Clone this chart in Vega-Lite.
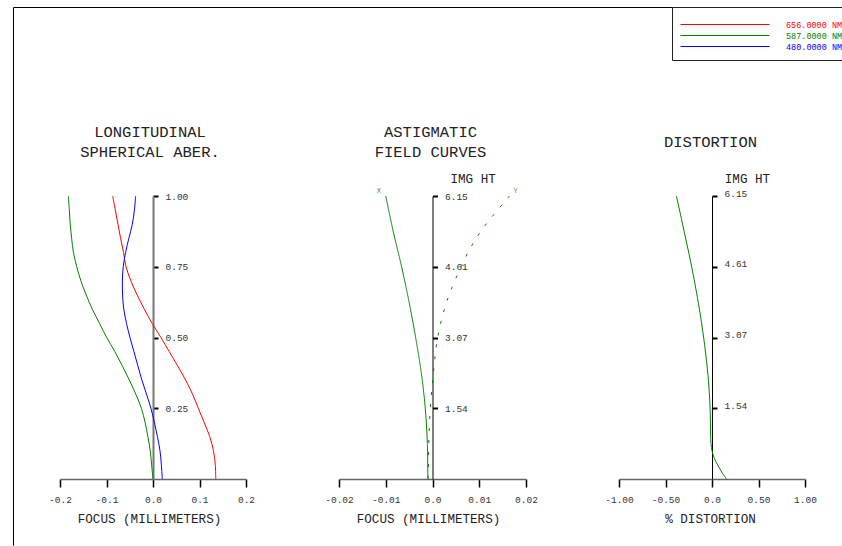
{
  "$schema": "https://vega.github.io/schema/vega-lite/v6.json",
  "width": 842,
  "height": 546,
  "autosize": "none",
  "padding": 0,
  "background": "white",
  "config": {
    "view": {"stroke": null},
    "axis": {
      "grid": false,
      "labelFont": "Liberation Mono",
      "titleFont": "Liberation Mono",
      "labelFontSize": 9.5,
      "labelColor": "#333333",
      "titleColor": "#222222",
      "titleFontWeight": "normal",
      "labelFlush": false,
      "labelOverlap": false,
      "tickColor": "black",
      "domainColor": "black"
    }
  },
  "datasets": {
    "lsa": [
      {"wl": "656.0000 NM", "pupil": 0, "focus": 0.135},
      {"wl": "656.0000 NM", "pupil": 0.05, "focus": 0.134},
      {"wl": "656.0000 NM", "pupil": 0.1, "focus": 0.13},
      {"wl": "656.0000 NM", "pupil": 0.15, "focus": 0.122},
      {"wl": "656.0000 NM", "pupil": 0.2, "focus": 0.11},
      {"wl": "656.0000 NM", "pupil": 0.25, "focus": 0.0975},
      {"wl": "656.0000 NM", "pupil": 0.3, "focus": 0.085},
      {"wl": "656.0000 NM", "pupil": 0.35, "focus": 0.07},
      {"wl": "656.0000 NM", "pupil": 0.4, "focus": 0.053},
      {"wl": "656.0000 NM", "pupil": 0.45, "focus": 0.035},
      {"wl": "656.0000 NM", "pupil": 0.5, "focus": 0.017},
      {"wl": "656.0000 NM", "pupil": 0.55, "focus": -0.002},
      {"wl": "656.0000 NM", "pupil": 0.6, "focus": -0.0186},
      {"wl": "656.0000 NM", "pupil": 0.65, "focus": -0.034},
      {"wl": "656.0000 NM", "pupil": 0.7, "focus": -0.0475},
      {"wl": "656.0000 NM", "pupil": 0.75, "focus": -0.058},
      {"wl": "656.0000 NM", "pupil": 0.8, "focus": -0.0633},
      {"wl": "656.0000 NM", "pupil": 0.85, "focus": -0.0696},
      {"wl": "656.0000 NM", "pupil": 0.9, "focus": -0.0753},
      {"wl": "656.0000 NM", "pupil": 0.95, "focus": -0.081},
      {"wl": "656.0000 NM", "pupil": 1.0, "focus": -0.0867},
      {"wl": "587.0000 NM", "pupil": 0, "focus": 0},
      {"wl": "587.0000 NM", "pupil": 0.05, "focus": -0.003},
      {"wl": "587.0000 NM", "pupil": 0.1, "focus": -0.006},
      {"wl": "587.0000 NM", "pupil": 0.15, "focus": -0.011},
      {"wl": "587.0000 NM", "pupil": 0.2, "focus": -0.017},
      {"wl": "587.0000 NM", "pupil": 0.25, "focus": -0.025},
      {"wl": "587.0000 NM", "pupil": 0.3, "focus": -0.037},
      {"wl": "587.0000 NM", "pupil": 0.35, "focus": -0.051},
      {"wl": "587.0000 NM", "pupil": 0.4, "focus": -0.066},
      {"wl": "587.0000 NM", "pupil": 0.45, "focus": -0.082},
      {"wl": "587.0000 NM", "pupil": 0.5, "focus": -0.0995},
      {"wl": "587.0000 NM", "pupil": 0.55, "focus": -0.115},
      {"wl": "587.0000 NM", "pupil": 0.6, "focus": -0.1305},
      {"wl": "587.0000 NM", "pupil": 0.65, "focus": -0.1435},
      {"wl": "587.0000 NM", "pupil": 0.7, "focus": -0.155},
      {"wl": "587.0000 NM", "pupil": 0.75, "focus": -0.164},
      {"wl": "587.0000 NM", "pupil": 0.8, "focus": -0.171},
      {"wl": "587.0000 NM", "pupil": 0.85, "focus": -0.175},
      {"wl": "587.0000 NM", "pupil": 0.9, "focus": -0.178},
      {"wl": "587.0000 NM", "pupil": 0.95, "focus": -0.18},
      {"wl": "587.0000 NM", "pupil": 1.0, "focus": -0.182},
      {"wl": "480.0000 NM", "pupil": 0, "focus": 0.02},
      {"wl": "480.0000 NM", "pupil": 0.05, "focus": 0.018},
      {"wl": "480.0000 NM", "pupil": 0.1, "focus": 0.015},
      {"wl": "480.0000 NM", "pupil": 0.15, "focus": 0.0095},
      {"wl": "480.0000 NM", "pupil": 0.2, "focus": 0.003},
      {"wl": "480.0000 NM", "pupil": 0.25, "focus": -0.0045},
      {"wl": "480.0000 NM", "pupil": 0.3, "focus": -0.014},
      {"wl": "480.0000 NM", "pupil": 0.35, "focus": -0.024},
      {"wl": "480.0000 NM", "pupil": 0.4, "focus": -0.0325},
      {"wl": "480.0000 NM", "pupil": 0.45, "focus": -0.041},
      {"wl": "480.0000 NM", "pupil": 0.5, "focus": -0.0495},
      {"wl": "480.0000 NM", "pupil": 0.55, "focus": -0.057},
      {"wl": "480.0000 NM", "pupil": 0.6, "focus": -0.0628},
      {"wl": "480.0000 NM", "pupil": 0.65, "focus": -0.0654},
      {"wl": "480.0000 NM", "pupil": 0.7, "focus": -0.0659},
      {"wl": "480.0000 NM", "pupil": 0.75, "focus": -0.064},
      {"wl": "480.0000 NM", "pupil": 0.8, "focus": -0.059},
      {"wl": "480.0000 NM", "pupil": 0.85, "focus": -0.052},
      {"wl": "480.0000 NM", "pupil": 0.9, "focus": -0.0445},
      {"wl": "480.0000 NM", "pupil": 0.95, "focus": -0.04},
      {"wl": "480.0000 NM", "pupil": 1.0, "focus": -0.0373}
    ],
    "afc": [
      {"curve": "X", "h": 0, "f": -0.001},
      {"curve": "X", "h": 0.77, "f": -0.0011},
      {"curve": "X", "h": 1.54, "f": -0.00155},
      {"curve": "X", "h": 2.31, "f": -0.0024},
      {"curve": "X", "h": 3.07, "f": -0.0036},
      {"curve": "X", "h": 3.84, "f": -0.005},
      {"curve": "X", "h": 4.61, "f": -0.0066},
      {"curve": "X", "h": 5.38, "f": -0.0084},
      {"curve": "X", "h": 6.15, "f": -0.01},
      {"curve": "Y", "h": 0, "f": -0.0009},
      {"curve": "Y", "h": 0.77, "f": -0.0008},
      {"curve": "Y", "h": 1.54, "f": -0.00047},
      {"curve": "Y", "h": 2.31, "f": 0.0002},
      {"curve": "Y", "h": 3.07, "f": 0.0011},
      {"curve": "Y", "h": 3.84, "f": 0.003},
      {"curve": "Y", "h": 4.61, "f": 0.0061},
      {"curve": "Y", "h": 5.0, "f": 0.008},
      {"curve": "Y", "h": 5.38, "f": 0.0103},
      {"curve": "Y", "h": 5.77, "f": 0.0133},
      {"curve": "Y", "h": 6.15, "f": 0.0165}
    ],
    "dist": [
      {"h": 0, "d": 0.155},
      {"h": 0.15, "d": 0.105},
      {"h": 0.3, "d": 0.062},
      {"h": 0.45, "d": 0.025},
      {"h": 0.6, "d": 0.002},
      {"h": 0.77, "d": -0.011},
      {"h": 1.0, "d": -0.015},
      {"h": 1.31, "d": -0.0175},
      {"h": 1.54, "d": -0.021},
      {"h": 1.74, "d": -0.025},
      {"h": 2.25, "d": -0.043},
      {"h": 2.9, "d": -0.0785},
      {"h": 3.56, "d": -0.125},
      {"h": 4.07, "d": -0.168},
      {"h": 4.65, "d": -0.222},
      {"h": 5.15, "d": -0.275},
      {"h": 5.66, "d": -0.329},
      {"h": 6.15, "d": -0.383}
    ]
  },
  "layer": [
    {
      "data": {"name": "lsa"},
      "mark": {"type": "line", "strokeWidth": 1, "interpolate": "catmull-rom"},
      "encoding": {
        "x": {
          "field": "focus", "type": "quantitative",
          "scale": {"domain": [-0.2, 0.2], "range": [60, 246], "nice": false, "zero": false},
          "axis": {
            "orient": "bottom", "offset": -67,
            "values": [-0.2, -0.1, 0, 0.1, 0.2],
            "labelExpr": "datum.value == 0 ? '0.0' : replace(format(datum.value, '.1f'), '\u2212', '-')",
            "tickSize": 8, "tickWidth": 1.5, "labelPadding": 7,
            "domainColor": "#666666", "domainWidth": 1.5,
            "title": "FOCUS (MILLIMETERS)", "titleFontSize": 12.6,
            "titleX": 149, "titleY": 39, "titleAlign": "center", "titleBaseline": "middle", "titleAngle": 0
          }
        },
        "y": {
          "field": "pupil", "type": "quantitative",
          "scale": {"domain": [0, 1], "range": [479, 196], "nice": false, "zero": false},
          "axis": {
            "orient": "right", "offset": -689,
            "values": [0.25, 0.5, 0.75, 1], "format": ".2f",
            "tickSize": 5, "tickWidth": 2, "labelPadding": 7,
            "domainColor": "#777777", "domainWidth": 2,
            "encode": {"ticks": {"update": {"x": {"value": -5}}}},
            "title": ["LONGITUDINAL", "SPHERICAL ABER."],
            "titleAngle": 0, "titleX": -3.5, "titleY": 131,
            "titleAlign": "center", "titleBaseline": "middle",
            "titleFontSize": 15.5, "titleLineHeight": 20
          }
        },
        "color": {
          "field": "wl", "type": "nominal",
          "scale": {"domain": ["656.0000 NM", "587.0000 NM", "480.0000 NM"], "range": ["#ff0000", "#008000", "#0000ff"]},
          "legend": {
            "orient": "none", "legendX": 672, "legendY": 7,
            "title": " ", "titleFontSize": 4, "titlePadding": 0,
            "symbolType": "stroke", "symbolSize": 7921, "symbolStrokeWidth": 1,
            "labelOffset": 16, "labelFont": "Liberation Mono", "labelFontSize": 8.5, "labelLimit": 300,
            "strokeColor": "#222222", "fillColor": "white", "padding": 8,
            "clipHeight": 11, "rowPadding": 0,
            "encode": {"labels": {"update": {"fill": {"scale": "color", "field": "value"}}}}
          }
        },
        "order": {"field": "pupil", "type": "quantitative"}
      }
    },
    {
      "data": {"name": "afc"},
      "mark": {"type": "line", "strokeWidth": 1, "color": "#008000", "interpolate": "catmull-rom"},
      "encoding": {
        "x": {
          "field": "f", "type": "quantitative",
          "scale": {"domain": [-0.02, 0.02], "range": [339, 526], "nice": false, "zero": false},
          "axis": {
            "orient": "bottom", "offset": -67,
            "values": [-0.02, -0.01, 0, 0.01, 0.02],
            "labelExpr": "datum.value == 0 ? '0.0' : replace(format(datum.value, '.2f'), '\u2212', '-')",
            "tickSize": 8, "tickWidth": 1.5, "labelPadding": 7,
            "domainColor": "#666666", "domainWidth": 1.5,
            "title": "FOCUS (MILLIMETERS)", "titleFontSize": 12.6,
            "titleX": 428, "titleY": 39, "titleAlign": "center", "titleBaseline": "middle", "titleAngle": 0
          }
        },
        "y": {
          "field": "h", "type": "quantitative",
          "scale": {"domain": [0, 6.15], "range": [479, 196], "nice": false, "zero": false},
          "axis": {
            "orient": "right", "offset": -409.5,
            "values": [1.54, 3.07, 4.61, 6.15], "format": ".2f",
            "tickSize": 5, "tickWidth": 2, "labelPadding": 7,
            "domainColor": "black", "domainWidth": 1,
            "encode": {"ticks": {"update": {"x": {"value": -5}}}},
            "title": "IMG HT", "titleAngle": 0, "titleX": 17.5, "titleY": 178,
            "titleAlign": "left", "titleBaseline": "middle", "titleFontSize": 12.6
          }
        },
        "strokeDash": {
          "field": "curve", "type": "nominal",
          "scale": {"domain": ["X", "Y"], "range": [[1, 0], [3, 9]]},
          "legend": null
        },
        "order": {"field": "h", "type": "quantitative"}
      }
    },
    {
      "data": {"name": "afc"},
      "transform": [{"filter": "datum.curve == 'X' && datum.h == 6.15"}],
      "mark": {"type": "text", "dx": -7, "dy": -5, "font": "Liberation Mono", "fontSize": 7, "color": "#3c9c3c"},
      "encoding": {
        "x": {"field": "f", "type": "quantitative", "scale": {"domain": [-0.02, 0.02], "range": [339, 526], "nice": false, "zero": false}, "axis": null},
        "y": {"field": "h", "type": "quantitative", "scale": {"domain": [0, 6.15], "range": [479, 196], "nice": false, "zero": false}, "axis": null},
        "text": {"field": "curve"}
      }
    },
    {
      "data": {"name": "afc"},
      "transform": [{"filter": "datum.curve == 'Y' && datum.h == 6.15"}],
      "mark": {"type": "text", "dx": 6, "dy": -5, "font": "Liberation Mono", "fontSize": 7, "color": "#3c9c3c"},
      "encoding": {
        "x": {"field": "f", "type": "quantitative", "scale": {"domain": [-0.02, 0.02], "range": [339, 526], "nice": false, "zero": false}, "axis": null},
        "y": {"field": "h", "type": "quantitative", "scale": {"domain": [0, 6.15], "range": [479, 196], "nice": false, "zero": false}, "axis": null},
        "text": {"field": "curve"}
      }
    },
    {
      "data": {"name": "dist"},
      "mark": {"type": "line", "strokeWidth": 1, "color": "#008000", "interpolate": "catmull-rom"},
      "encoding": {
        "x": {
          "field": "d", "type": "quantitative",
          "scale": {"domain": [-1, 1], "range": [619, 805], "nice": false, "zero": false},
          "axis": {
            "orient": "bottom", "offset": -67,
            "values": [-1, -0.5, 0, 0.5, 1],
            "labelExpr": "datum.value == 0 ? '0.0' : replace(format(datum.value, '.2f'), '\u2212', '-')",
            "tickSize": 8, "tickWidth": 1.5, "labelPadding": 7,
            "domainColor": "#666666", "domainWidth": 1.5,
            "title": "% DISTORTION", "titleFontSize": 12.6,
            "titleX": 710, "titleY": 39, "titleAlign": "center", "titleBaseline": "middle", "titleAngle": 0
          }
        },
        "y": {
          "field": "h", "type": "quantitative",
          "scale": {"domain": [0, 6.15], "range": [479, 196], "nice": false, "zero": false},
          "axis": {
            "orient": "right", "offset": -130,
            "values": [1.54, 3.07, 4.61, 6.15], "format": ".2f",
            "tickSize": 5, "tickWidth": 2, "labelPadding": 7, "labelOffset": -3,
            "domainColor": "black", "domainWidth": 1,
            "encode": {"ticks": {"update": {"x": {"value": -5}}}},
            "title": "IMG HT", "titleAngle": 0, "titleX": 12.3, "titleY": 178,
            "titleAlign": "left", "titleBaseline": "middle", "titleFontSize": 12.6
          }
        },
        "order": {"field": "h", "type": "quantitative"}
      }
    },
    {
      "data": {"name": "dist"},
      "mark": {"type": "point", "opacity": 0},
      "encoding": {
        "x": {
          "field": "d", "type": "quantitative",
          "scale": {"domain": [-1, 1], "range": [13, 841], "nice": false, "zero": false},
          "axis": {
            "orient": "top", "offset": -7,
            "domain": true, "domainColor": "black", "domainWidth": 1,
            "ticks": false, "labels": false,
            "title": "DISTORTION", "titleAngle": 0, "titleX": 710, "titleY": 134,
            "titleAlign": "center", "titleBaseline": "middle", "titleFontSize": 15.5
          }
        },
        "y": {
          "field": "h", "type": "quantitative",
          "scale": {"domain": [0, 6.15], "range": [545, 7], "nice": false, "zero": false},
          "axis": {
            "orient": "left", "offset": -13,
            "domain": true, "domainColor": "black", "domainWidth": 1,
            "ticks": false, "labels": false,
            "title": ["ASTIGMATIC", "FIELD CURVES"], "titleAngle": 0, "titleX": 417, "titleY": 131,
            "titleAlign": "center", "titleBaseline": "middle", "titleFontSize": 15.5, "titleLineHeight": 20
          }
        }
      }
    }
  ],
  "resolve": {
    "scale": {"x": "independent", "y": "independent"},
    "axis": {"x": "independent", "y": "independent"}
  }
}
